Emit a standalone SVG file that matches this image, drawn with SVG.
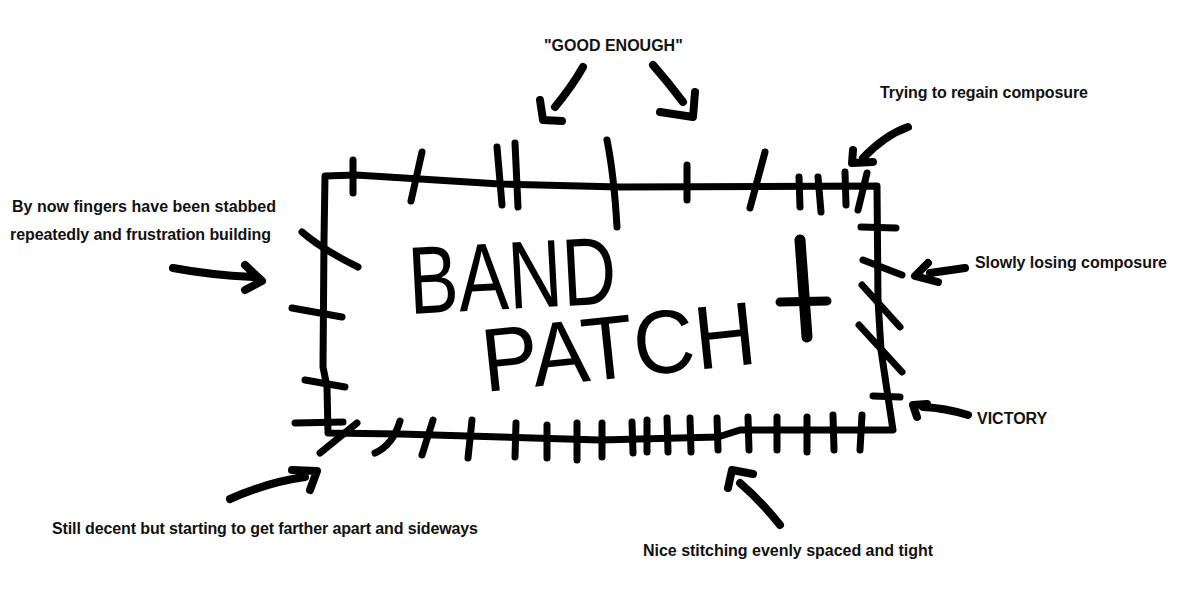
<svg xmlns="http://www.w3.org/2000/svg" width="1198" height="606" viewBox="0 0 1198 606">
<style>
.ln{fill:none;stroke:#000;stroke-width:7;stroke-linecap:round;stroke-linejoin:round}
.ar{fill:none;stroke:#000;stroke-width:8;stroke-linecap:round;stroke-linejoin:round}
.lb{font-family:"Liberation Sans",Arial,sans-serif;font-weight:bold;font-size:16px;fill:#111}
.big{font-family:"Liberation Sans",Arial,sans-serif;font-weight:normal;fill:#000}
</style>
<rect width="1198" height="606" fill="#fff"/>
<g id="patch">
<path class="ln" d="M325,176 L356,175 L420,179 L500,184 L620,187 L877,186 L878,300 L881,350 L888,397 L893,430 L740,430 L718,437 L600,440 L400,434 L328,433 L327,387 L323,367 L324,240 Z"/>
</g>
<g id="stitches" class="ln">
<path d="M353,160 L353,193"/>
<path d="M422,152 L411,201"/>
<path d="M497,147 L502,205"/>
<path d="M515,143 L518,207"/>
<path d="M607,140 Q614,175 617,227"/>
<path d="M687,165 L687,200"/>
<path d="M765,152 L750,208"/>
<path d="M799,177 L800,207"/>
<path d="M818,177 L821,212"/>
<path d="M845,172 L846,205"/>
<path d="M867,173 L858,210"/>
<path d="M861,227 L896,228"/>
<path d="M863,260 L902,275"/>
<path d="M862,285 L900,327"/>
<path d="M859,325 L902,372"/>
<path d="M873,396 L900,397"/>
<path d="M302,232 Q323,250 358,267"/>
<path d="M292,308 L342,317"/>
<path d="M305,380 L345,387"/>
<path d="M295,423 L343,422"/>
<path d="M320,453 L357,423"/>
<path d="M375,453 Q393,445 400,421"/>
<path d="M422,455 L433,420"/>
<path d="M468,458 L472,420"/>
<path d="M515,457 L516,423"/>
<path d="M547,458 L547,425"/>
<path d="M577,460 L577,423"/>
<path d="M602,457 L602,423"/>
<path d="M632,422 L633,453"/>
<path d="M647,420 L647,452"/>
<path d="M667,418 L668,452"/>
<path d="M690,418 L691,452"/>
<path d="M717,418 L718,450"/>
<path d="M748,417 L749,450"/>
<path d="M777,417 L777,450"/>
<path d="M807,417 L807,452"/>
<path d="M833,415 L834,450"/>
<path d="M862,415 L860,450"/>
</g>
<g id="lettering">
<text class="big" x="410" y="314" font-size="96" textLength="208" lengthAdjust="spacingAndGlyphs" transform="rotate(-3 410 314)">BAND</text>
<text class="big" x="485" y="392" font-size="90" textLength="275" lengthAdjust="spacingAndGlyphs" transform="rotate(-6 485 392)">PATCH</text>
<path d="M800,240 L807,337" fill="none" stroke="#000" stroke-width="11" stroke-linecap="round"/>
<path d="M780,302 L827,301" fill="none" stroke="#000" stroke-width="9" stroke-linecap="round"/>
</g>
<g id="connectors" class="ar">
<path d="M583,67 Q573,85 555,107 M540,100 L543,120 L562,121"/>
<path d="M653,65 Q668,82 683,102 M660,112 L693,117 L695,92"/>
<path d="M908,127 Q885,135 863,158 M853,150 L852,163 L873,162"/>
<path d="M173,268 Q210,275 253,277 M245,265 L262,281 L245,290"/>
<path d="M965,268 L930,273 M928,263 L915,276 L938,282"/>
<path d="M968,415 Q945,408 923,407 M927,404 L913,405 L917,417"/>
<path d="M230,499 Q268,482 305,477 M292,470 L317,471 L310,490"/>
<path d="M780,525 Q760,500 740,483 M728,488 L732,470 L753,474"/>
</g>
<g id="labels">
<text class="lb" x="544" y="51" font-size="14">"GOOD ENOUGH"</text>
<text class="lb" x="880" y="98" textLength="208">Trying to regain composure</text>
<text class="lb" x="12" y="212" textLength="264">By now fingers have been stabbed</text>
<text class="lb" x="10" y="240" textLength="261">repeatedly and frustration building</text>
<text class="lb" x="975" y="268" textLength="192">Slowly losing composure</text>
<text class="lb" x="977" y="424">VICTORY</text>
<text class="lb" x="52" y="534" textLength="426">Still decent but starting to get farther apart and sideways</text>
<text class="lb" x="643" y="556" textLength="290">Nice stitching evenly spaced and tight</text>
</g>
</svg>
